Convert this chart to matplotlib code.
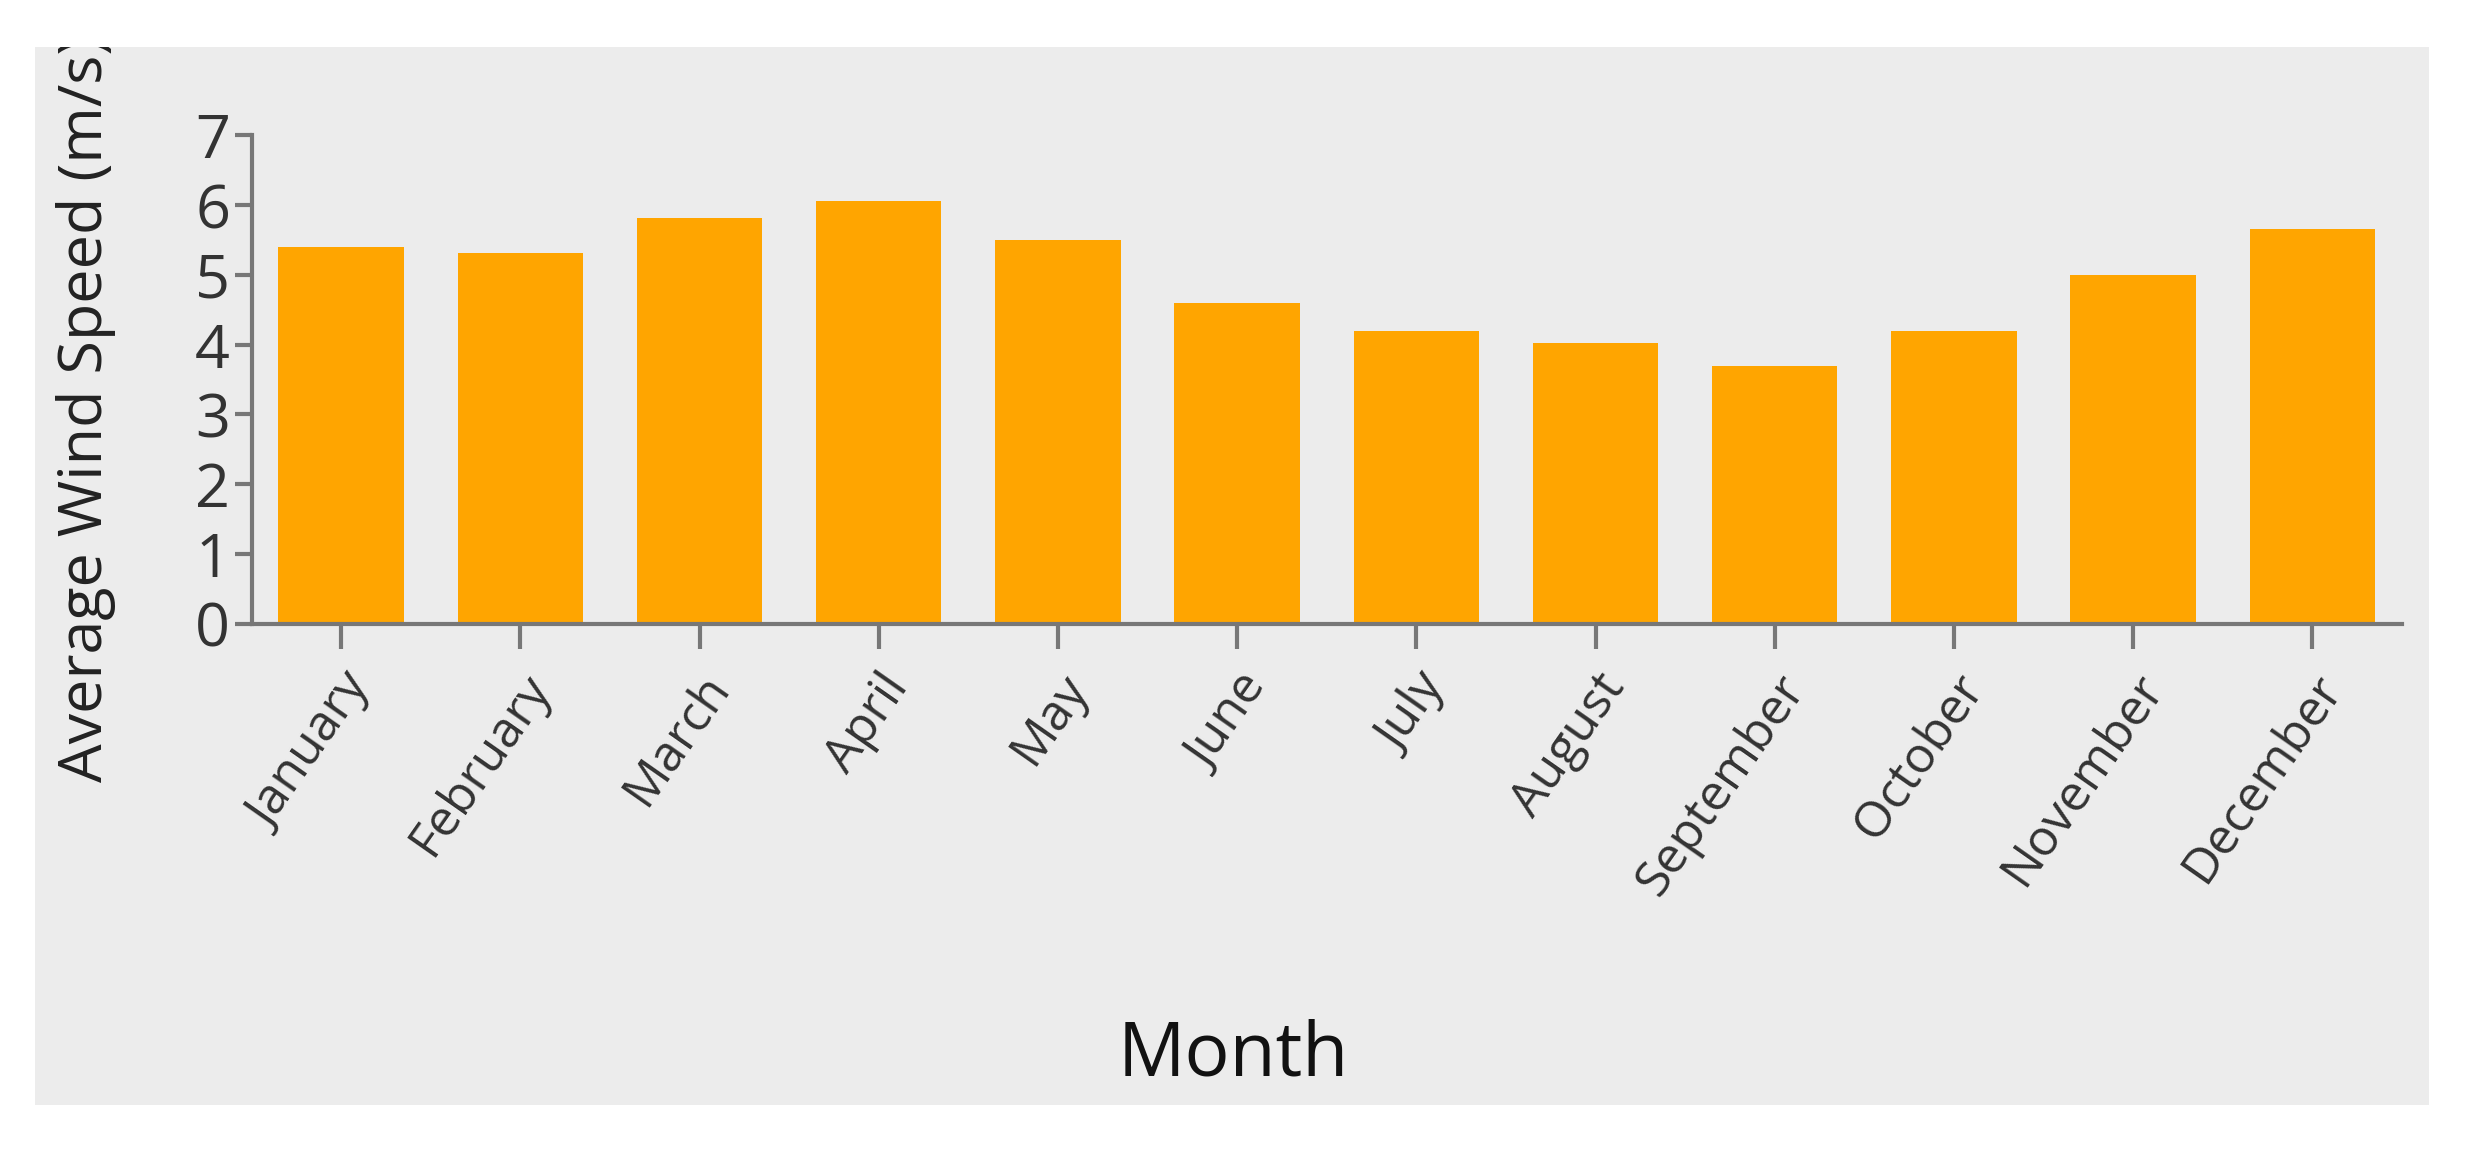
import matplotlib.pyplot as plt
from matplotlib.patches import Rectangle

months = ['January', 'February', 'March', 'April', 'May', 'June', 'July',
          'August', 'September', 'October', 'November', 'December']
wind_speed = [5.4, 5.32, 5.81, 6.06, 5.5, 4.6, 4.19, 4.03, 3.69, 4.19, 5.0, 5.65]

plt.rcParams['font.family'] = ['Open Sans', 'DejaVu Sans']
fig = plt.figure(figsize=(24.66, 11.51), dpi=100)
fig.patch.set_facecolor('white')
panel = Rectangle((0.014, 0.04), 0.971, 0.919, transform=fig.transFigure,
                  facecolor='#ececec', edgecolor='none', zorder=-10)
fig.patches.append(panel)

ax = fig.add_axes([0.102, 0.458, 0.872, 0.4245])
ax.set_zorder(5)
ax.set_facecolor('none')
x = range(len(months))
ax.bar(x, wind_speed, width=0.7, color='#ffa500')
ax.set_xlim(-0.5, len(months) - 0.5)
ax.set_ylim(0, 7)
ax.set_yticks(range(8))
ax.set_xticks(x)
ax.set_xticklabels(months, rotation=55, ha='right', rotation_mode='anchor',
                   fontsize=36)
ax.tick_params(axis='y', labelsize=44, colors='#777777', length=12, width=3)
ax.tick_params(axis='x', length=18, width=3, colors='#777777', pad=12)
for lbl in ax.get_xticklabels() + ax.get_yticklabels():
    lbl.set_color('#333333')
for s in ['top', 'right']:
    ax.spines[s].set_visible(False)
for s in ['left', 'bottom']:
    ax.spines[s].set_color('#777777')
    ax.spines[s].set_linewidth(3)

fig.text(0.5, 0.05, 'Month', ha='center', va='bottom', fontsize=54, color='#111111')
yl = fig.text(0.035, 0.321, 'Average Wind Speed (m/s)', rotation=90,
              ha='center', va='bottom', fontsize=44, color='#222222')
yl.set_clip_path(panel)
yl.set_clip_on(True)

fig.savefig('out.png', dpi=100)
